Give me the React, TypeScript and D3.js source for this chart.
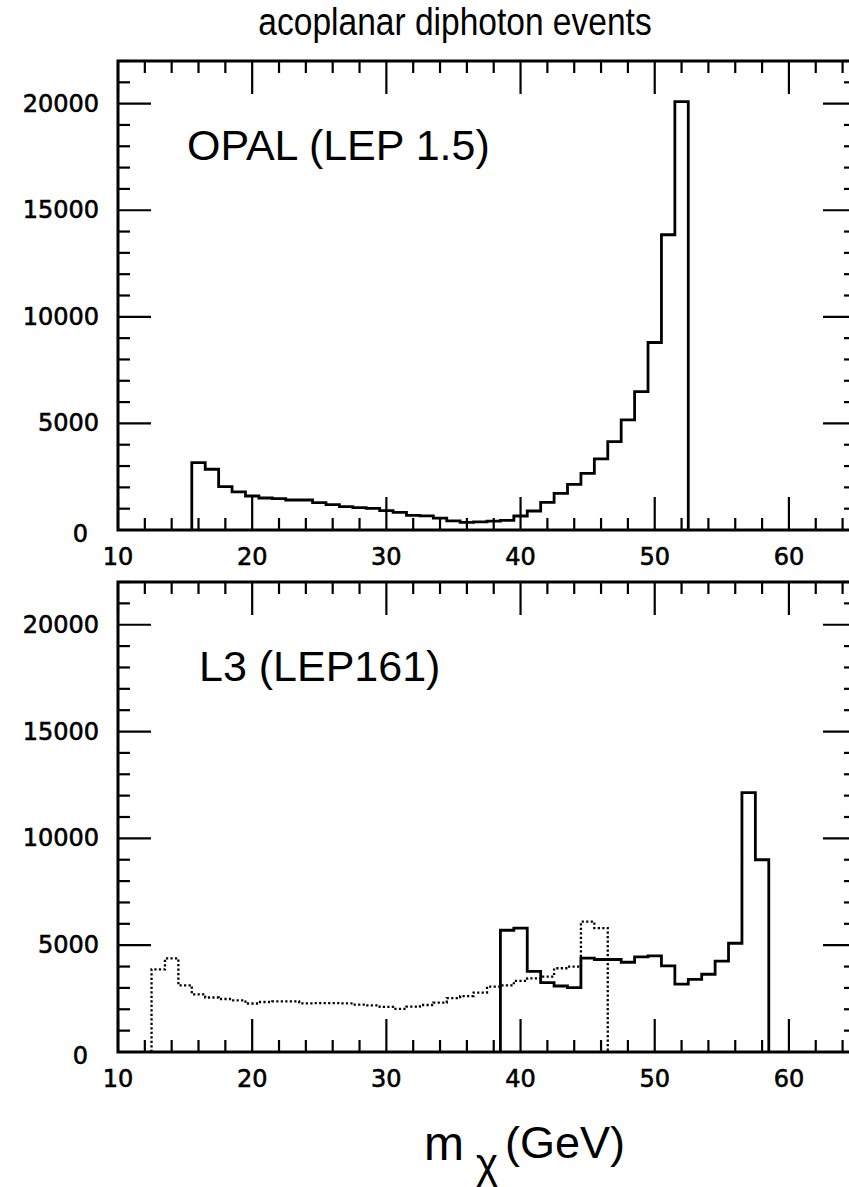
import * as d3 from "d3";

// Histogram contents, 1 GeV bins
const opalStart = 15.5;
const opalCounts = [
  3160, 2850, 2035, 1784, 1596, 1502, 1470, 1408, 1408, 1283, 1190, 1095, 1048,
  1017, 908, 830, 689, 660, 560, 430, 360, 380, 415, 454, 657, 892, 1299, 1721,
  2144, 2660, 3333, 4147, 5165, 6495, 8795, 13850, 20095,
];

const l3DottedStart = 12.5;
const l3DottedCounts = [
  3870, 4380, 3120, 2700, 2550, 2480, 2420, 2270, 2340, 2370, 2370, 2280, 2290,
  2290, 2280, 2220, 2180, 2110, 2020, 2120, 2200, 2310, 2520, 2620, 2780, 3060,
  3120, 3330, 3450, 3530, 3920, 4000, 6100, 5800,
];

const l3SolidStart = 38.5;
const l3SolidCounts = [
  5700, 5800, 3770, 3250, 3090, 3010, 4390, 4330, 4330, 4200, 4450, 4500, 4030,
  3180, 3400, 3640, 4250, 5090, 12140, 9000,
];

const binWidth = 1;
const xMajorTicks = [10, 20, 30, 40, 50, 60];
const yMajorTicks = [0, 5000, 10000, 15000, 20000];

const W = 849;
const H = 1187;
const left = 118;
const right = 856;

const x = d3.scaleLinear().domain([10, 65]).range([left, right]);

function histPoints(start: number, counts: number[]) {
  const pts: [number, number][] = [[start, 0]];
  counts.forEach((c, i) => pts.push([start + i * binWidth, c]));
  const end = start + counts.length * binWidth;
  pts.push([end, counts[counts.length - 1]]);
  pts.push([end, 0]);
  return pts;
}

interface Series {
  start: number;
  counts: number[];
  dotted?: boolean;
}

interface PanelProps {
  top: number;
  bottom: number;
  label: string;
  labelY: number;
  labelX: number;
  series: Series[];
}

const tickFont = "DejaVu Sans, sans-serif";
const sans = "Liberation Sans, Arial, sans-serif";

function Panel({ top, bottom, label, labelX, labelY, series }: PanelProps) {
  const y = d3.scaleLinear().domain([0, 22000]).range([bottom, top]);
  const xMinor = d3.range(10, 65, 2).filter((v) => v % 10 !== 0);
  const yMinor = d3.range(0, 22001, 1000).filter((v) => v % 5000 !== 0);
  const major = 33;
  const minor = 12;

  const line = d3
    .line<[number, number]>()
    .x((d) => x(d[0]))
    .y((d) => y(d[1]))
    .curve(d3.curveStepAfter);

  return (
    <g>
      {series.map((s, i) => (
        <path
          key={i}
          d={line(histPoints(s.start, s.counts)) || ""}
          fill="none"
          stroke="#000"
          strokeWidth={s.dotted ? 2.3 : 2.8}
          strokeDasharray={s.dotted ? "2.2,2.3" : undefined}
        />
      ))}
      {/* x ticks, bottom and top */}
      {xMajorTicks.map((v) => (
        <g key={"xm" + v}>
          <line x1={x(v)} x2={x(v)} y1={bottom} y2={bottom - major} stroke="#000" strokeWidth={2.2} />
          <line x1={x(v)} x2={x(v)} y1={top} y2={top + major} stroke="#000" strokeWidth={2.2} />
        </g>
      ))}
      {xMinor.map((v) => (
        <g key={"xn" + v}>
          <line x1={x(v)} x2={x(v)} y1={bottom} y2={bottom - minor} stroke="#000" strokeWidth={2.2} />
          <line x1={x(v)} x2={x(v)} y1={top} y2={top + minor} stroke="#000" strokeWidth={2.2} />
        </g>
      ))}
      {/* y ticks, left and right */}
      {yMajorTicks.map((v) => (
        <g key={"ym" + v}>
          <line x1={left} x2={left + major} y1={y(v)} y2={y(v)} stroke="#000" strokeWidth={2.2} />
          <line x1={right} x2={right - major} y1={y(v)} y2={y(v)} stroke="#000" strokeWidth={2.2} />
        </g>
      ))}
      {yMinor.map((v) => (
        <g key={"yn" + v}>
          <line x1={left} x2={left + minor} y1={y(v)} y2={y(v)} stroke="#000" strokeWidth={2.2} />
          <line x1={right} x2={right - minor} y1={y(v)} y2={y(v)} stroke="#000" strokeWidth={2.2} />
        </g>
      ))}
      <rect x={left} y={top} width={right - left} height={bottom - top} fill="none" stroke="#000" strokeWidth={3} />
      {/* tick labels */}
      {yMajorTicks.map((v) => (
        <text
          key={"yl" + v}
          x={v === 0 ? 88 : 99}
          y={y(v) + (v === 0 ? 4 : 0)}
          textAnchor="end"
          dominantBaseline="central"
          fontFamily={tickFont}
          fontSize={24}
          stroke="#000"
          strokeWidth={0.6}
        >
          {v}
        </text>
      ))}
      {xMajorTicks.map((v) => (
        <text
          key={"xl" + v}
          x={x(v)}
          y={bottom + 27}
          textAnchor="middle"
          dominantBaseline="central"
          fontFamily={tickFont}
          fontSize={24}
          stroke="#000"
          strokeWidth={0.6}
        >
          {v}
        </text>
      ))}
      <text x={labelX} y={labelY} fontFamily={sans} fontSize={43}>
        {label}
      </text>
    </g>
  );
}

export default function App() {
  return (
    <svg
      width={W}
      height={H}
      style={{ position: "absolute", left: 0, top: 0, background: "#fff" }}
    >
      <rect width={W} height={H} fill="#fff" />
      <g transform="translate(455,35) scale(0.86,1)">
        <text x={0} y={0} textAnchor="middle" fontFamily={sans} fontSize={39}>
          acoplanar diphoton events
        </text>
      </g>
      <Panel
        top={61}
        bottom={530}
        label="OPAL (LEP 1.5)"
        labelX={187}
        labelY={160}
        series={[{ start: opalStart, counts: opalCounts }]}
      />
      <Panel
        top={582}
        bottom={1052}
        label="L3 (LEP161)"
        labelX={199}
        labelY={681}
        series={[
          { start: l3DottedStart, counts: l3DottedCounts, dotted: true },
          { start: l3SolidStart, counts: l3SolidCounts },
        ]}
      />
      <text fontFamily={sans} y={1160}>
        <tspan x={424} fontSize={48}>m</tspan>
        <tspan x={476} dy={18} fontSize={42}>χ</tspan>
        <tspan x={505} dy={-20} fontSize={45}>(GeV)</tspan>
      </text>
    </svg>
  );
}
